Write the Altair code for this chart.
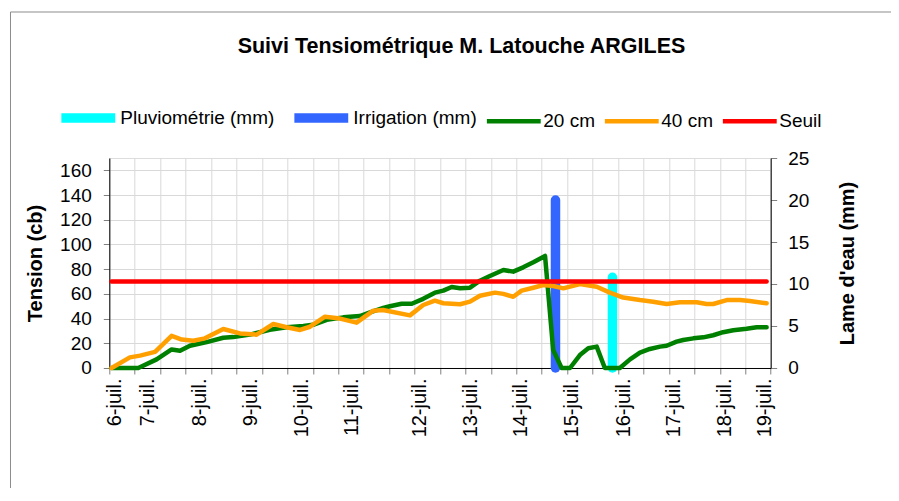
import altair as alt
import pandas as pd

FONT = "Liberation Sans"

# x positions are expressed in axis-tick units (one tick every half day)
date_labels = ["6-juil.", "7-juil.", "8-juil.", "9-juil.", "10-juil.", "11-juil.", "12-juil.",
               "13-juil.", "14-juil.", "15-juil.", "16-juil.", "17-juil.", "18-juil.", "19-juil."]
date_pos = [0.20, 1.50, 3.54, 5.54, 7.55, 9.53, 12.21, 14.19, 16.18, 18.17, 20.21, 22.18, 24.18, 25.77]
tick_pos = list(range(27))

series = ["Pluviométrie (mm)", "Irrigation (mm)", "20 cm", "40 cm", "Seuil"]
colors = ["#00FFFF", "#3366FF", "#008000", "#FFA000", "#FF0000"]
widths = [9.5, 9.5, 4.5, 4.5, 4.5]

pos_20 = [0.09, 1.14, 1.86, 2.45, 2.78, 3.17, 3.83, 4.48, 4.87, 5.53, 6.31, 6.97, 7.63, 8.01, 8.55,
          9.20, 9.85, 10.25, 10.77, 11.03, 11.49, 11.89, 12.34, 12.80, 13.13, 13.46, 13.79, 14.18,
          14.57, 14.96, 15.49, 15.88, 16.27, 16.67, 17.13, 17.45, 17.78, 18.11, 18.50, 18.83, 19.16,
          19.48, 20.07, 20.47, 20.86, 21.25, 21.65, 21.91, 22.30, 22.56, 22.96, 23.35, 23.74, 24.13,
          24.53, 25.05, 25.45, 25.84]
tension_20 = [0, 0, 7, 15, 14, 18, 21, 24.5, 25, 27, 31, 33, 34, 35, 39, 41, 42, 45, 48.6, 50,
              52, 52, 56, 61, 62.6, 65.6, 64.5, 65, 70.7, 74.5, 79.3, 78, 81.5, 85.6, 90.7, 14.6, 0, 0,
              10.5, 16, 17.3, 0, 0, 7, 12.4, 15.4, 17.3, 18, 21.3, 22.7, 24, 24.8, 26.5, 29, 30.5, 31.8,
              33, 33]

pos_40 = [0.09, 0.81, 1.21, 1.80, 2.45, 2.85, 3.30, 3.76, 4.48, 5.14, 5.79, 6.45, 6.97, 7.50, 7.89,
          8.48, 9.07, 9.72, 10.38, 10.76, 11.82, 12.34, 12.80, 13.13, 13.79, 14.18, 14.57, 15.16,
          15.49, 15.88, 16.21, 16.67, 17.06, 17.45, 17.85, 18.50, 19.16, 19.68, 20.20, 20.86, 21.38,
          21.91, 22.43, 23.09, 23.48, 23.74, 24.27, 24.79, 25.18, 25.84]
tension_40 = [0, 8.6, 10, 13, 26, 23, 22, 24, 31.6, 28, 27, 35.6, 33, 30.8, 33.4, 41.5, 40, 36.7,
              46.4, 47, 42.6, 51, 54.5, 52.4, 51.6, 53.7, 58.5, 61, 60, 57.7, 62.6, 65, 67.2, 66.4,
              64.5, 68, 65.8, 61, 57, 55, 53.7, 51.8, 53.2, 53.2, 51.8, 51.8, 55, 55, 54.2, 52.4]

pos_seuil = [0.09, 25.84]
seuil = [70, 70]

water_series = ["Pluviométrie (mm)", "Irrigation (mm)"]
water_pos = [19.78, 17.54]
water_mm = [10.8, 20]

lines_df = pd.concat([
    pd.DataFrame({"pos": pos_20, "tension": tension_20, "serie": "20 cm"}),
    pd.DataFrame({"pos": pos_40, "tension": tension_40, "serie": "40 cm"}),
    pd.DataFrame({"pos": pos_seuil, "tension": seuil, "serie": "Seuil"}),
], ignore_index=True)
water_df = pd.DataFrame({"pos": water_pos, "mm": water_mm, "serie": water_series})

label_map = ", ".join(f"'{p}': '{d}'" for p, d in zip(date_pos, date_labels))
label_expr = "{" + label_map + "}[datum.value]"

xscale = alt.Scale(domain=[0, 26], nice=False, zero=False)

legend = alt.Legend(title=None, orient="none", legendX=-53, legendY=-72, direction="horizontal",
                    symbolType="stroke", symbolSize=2900, labelFont=FONT, labelFontSize=19,
                    labelColor="black", labelOffset=0, columnPadding=0, padding=0, labelLimit=400)
color_enc = alt.Color("serie:N", scale=alt.Scale(domain=series, range=colors), legend=legend)
width_enc = alt.StrokeWidth("serie:N", scale=alt.Scale(type="ordinal", domain=series, range=widths),
                            legend=legend)

border = alt.Chart(pd.DataFrame({"a": [0]})).mark_rect(
    fillOpacity=0, stroke="#8C8C8C", strokeWidth=1
).encode(x=alt.value(-98.8), x2=alt.value(900), y=alt.value(-146), y2=alt.value(400))

water = alt.Chart(water_df).mark_rule(strokeCap="round").encode(
    x=alt.X("pos:Q", scale=xscale, axis=alt.Axis(
        values=date_pos, labelExpr=label_expr, labelAngle=270, labelAlign="right",
        labelBaseline="middle", labelFont=FONT, labelFontSize=20, labelColor="black",
        labelPadding=10, labelOverlap=False, labelFlush=False, ticks=False, domain=False,
        grid=False, title=None, orient="bottom")),
    y=alt.Y("mm:Q", scale=alt.Scale(domain=[0, 25], nice=False), axis=alt.Axis(
        orient="right", values=[0, 5, 10, 15, 20, 25], grid=False, tickSize=6, tickColor="#808080",
        domainColor="black", labelFont=FONT, labelFontSize=19, labelColor="black",
        labelPadding=11, labelFlush=False, title="Lame d'eau (mm)", titleAngle=270,
        titleBaseline="top", titleFont=FONT, titleFontSize=20, titleFontWeight="bold",
        titleColor="black", titlePadding=29)),
    y2=alt.datum(0),
    color=color_enc,
    strokeWidth=width_enc,
)

lines = alt.Chart(lines_df).mark_line(strokeCap="round", strokeJoin="round").encode(
    x=alt.X("pos:Q", scale=xscale, axis=alt.Axis(
        values=tick_pos, labels=False, ticks=True, tickSize=6, tickColor="#808080", grid=True,
        gridColor="#D9D9D9", domainColor="black", title=None, orient="bottom")),
    y=alt.Y("tension:Q", scale=alt.Scale(domain=[0, 170], nice=False), axis=alt.Axis(
        orient="left", values=list(range(0, 161, 20)), grid=True, gridColor="#D9D9D9", tickSize=6,
        tickColor="#808080", domainColor="black", labelFont=FONT, labelFontSize=19,
        labelColor="black", labelPadding=12, labelFlush=False, title="Tension (cb)",
        titleFont=FONT, titleFontSize=20, titleFontWeight="bold", titleColor="black",
        titlePadding=14)),
    color=color_enc,
    strokeWidth=width_enc,
)

chart = alt.layer(border, water, lines).resolve_scale(y="independent").resolve_axis(
    x="independent"
).properties(
    width=661.4, height=210,
    autosize=alt.AutoSizeParams(type="none"),
    padding={"left": 101.3, "top": 150, "right": 120, "bottom": 120},
    title=alt.TitleParams("Suivi Tensiométrique M. Latouche ARGILES", font=FONT, fontSize=21.5,
                          fontWeight="bold", color="black", anchor="middle", frame="group",
                          offset=0, dx=21.5, dy=46),
).configure_view(strokeWidth=0).configure(font=FONT)

chart.save("out.html", embed_options={"renderer": "svg", "actions": False})
